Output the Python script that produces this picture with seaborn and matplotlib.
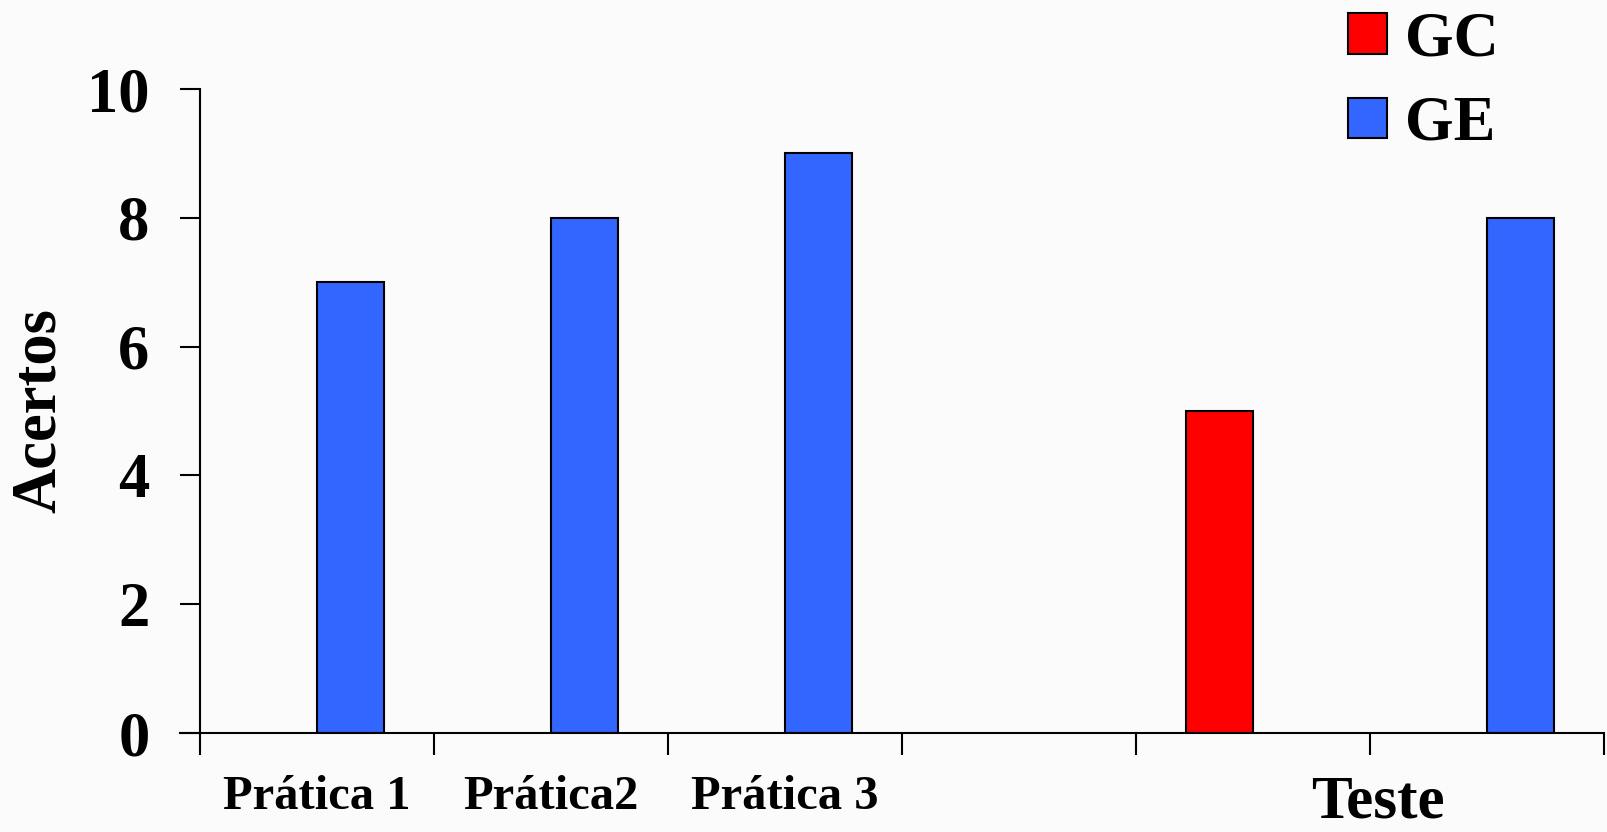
import matplotlib
matplotlib.use("Agg")
import matplotlib.pyplot as plt
import seaborn as sns
import pandas as pd

# ---- data ----
slots = ["Prática 1", "Prática2", "Prática 3", "gap", "Teste GC", "Teste GE"]
bar_slots = ["Prática 1", "Prática2", "Prática 3", "Teste GC", "Teste GE"]
bar_groups = ["GE", "GE", "GE", "GC", "GE"]
bar_values = [7, 8, 9, 5, 8]
groups = ["GC", "GE"]
group_colors = {"GC": "#FF0000", "GE": "#3366FF"}
xlabels = ["Prática 1", "Prática2", "Prática 3", "Teste"]
yticks = [0, 2, 4, 6, 8, 10]

df = pd.DataFrame({"slot": bar_slots, "grupo": bar_groups, "acertos": bar_values})

sns.set_theme(style="white")
plt.rcParams["font.family"] = ["Liberation Serif", "DejaVu Serif"]
plt.rcParams["font.weight"] = "bold"
for k in ["text.color", "axes.labelcolor", "xtick.color", "ytick.color", "axes.edgecolor"]:
    plt.rcParams[k] = "black"

bg = "#fbfbfb"
fig = plt.figure(figsize=(16.07, 8.32), dpi=100, facecolor=bg)
ax = fig.add_axes([180 / 1607, 1 - 733 / 832, (1604 - 180) / 1607, (733 - 89) / 832])
ax.set_facecolor(bg)

sns.barplot(data=df, x="slot", y="acertos", hue="grupo", order=slots,
            hue_order=groups, palette=group_colors, width=0.57, dodge=True,
            edgecolor="black", linewidth=1.5, saturation=1, ax=ax, legend=True)

ax.set_ylim(0, 10)
ax.set_xlim(-0.5 - 20 / 234.0, 5.5)

for s in ["top", "right"]:
    ax.spines[s].set_visible(False)
ax.spines["left"].set_position(("data", -0.5))
ax.spines["left"].set_linewidth(1.5)
ax.spines["bottom"].set_linewidth(1.5)

ax.set_yticks(yticks)
ax.set_yticklabels([str(v) for v in yticks], fontsize=45, fontweight="bold")
ax.tick_params(axis="y", direction="out", length=14.4, width=1.5, pad=22, left=True)

# boundary ticks (major, no labels), category labels (minor, no tick marks)
ax.xaxis.remove_overlapping_locs = False
ax.set_xticks([-0.5, 0.5, 1.5, 2.5, 3.5, 4.5, 5.5])
ax.set_xticklabels([""] * 7)
ax.tick_params(axis="x", which="major", direction="out", length=16, width=1.5, bottom=True)
ax.set_xticks([0, 1, 2, 4.535], minor=True)
ax.set_xticklabels(xlabels, minor=True, fontweight="bold")
ax.tick_params(axis="x", which="minor", length=0, pad=30)
for lbl in ax.get_xticklabels(minor=True):
    if lbl.get_text() == "Teste":
        lbl.set_fontsize(44)
    else:
        lbl.set_fontsize(35)

ax.set_xlabel("")
ax.set_ylabel("Acertos", fontsize=45, fontweight="bold")
ax.yaxis.label.set_va("center")
ax.yaxis.set_label_coords((40 - 180) / 1424, 0.5)

sns.move_legend(ax, loc="upper left", bbox_to_anchor=(1304 / 1607, 1 + 32 / 832),
                bbox_transform=fig.transFigure, frameon=False, title=None,
                fontsize=45, handlelength=0.62, handleheight=0.62,
                handletextpad=0.3, labelspacing=0.42, borderpad=0.2)
for t in ax.get_legend().get_texts():
    t.set_fontweight("bold")

fig.savefig("out.png", dpi=100, facecolor=bg)
